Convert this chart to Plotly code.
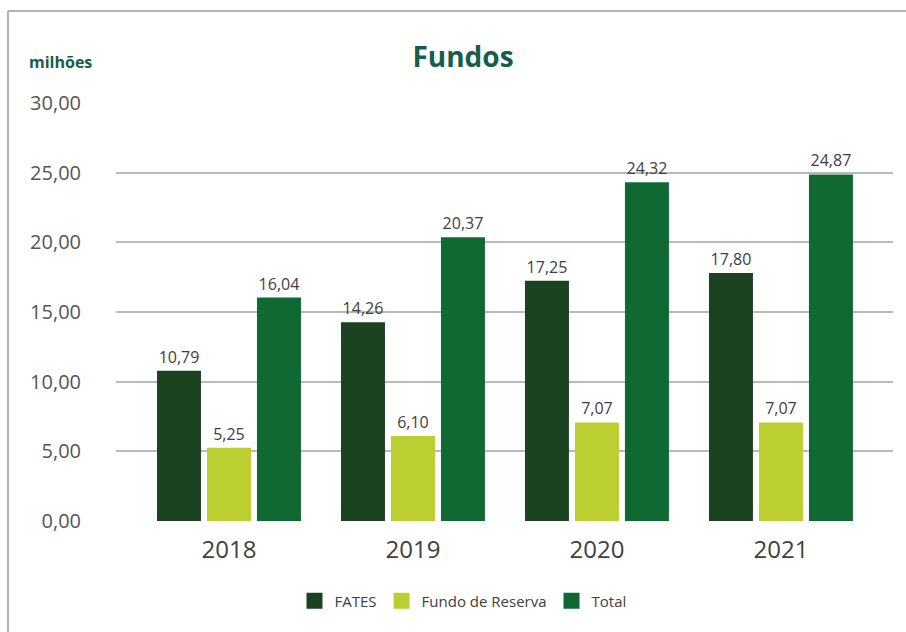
import plotly.graph_objects as go

# Anos e valores (em milhões)
anos = ["2018", "2019", "2020", "2021"]
fates = [10.79, 14.26, 17.25, 17.80]
fundo_reserva = [5.25, 6.10, 7.07, 7.07]
total = [16.04, 20.37, 24.32, 24.87]

series = [
    ("FATES", fates, "#1b4321"),
    ("Fundo de Reserva", fundo_reserva, "#bccf31"),
    ("Total", total, "#106832"),
]

y_ticks = [0, 5, 10, 15, 20, 25, 30]

FONT = "Open Sans"
TEXT_COLOR = "#404040"
TITLE_COLOR = "#155e4b"

fig = go.Figure()

for name, values, color in series:
    fig.add_trace(go.Bar(
        x=anos,
        y=values,
        name=name,
        marker=dict(color=color, line=dict(width=0)),
        texttemplate="%{y:.2f}",
        textposition="outside",
        cliponaxis=False,
        textfont=dict(family=FONT, size=16, color=TEXT_COLOR),
        showlegend=False,
        hoverinfo="skip",
    ))

# Legend entries with large square swatches
for name, values, color in series:
    fig.add_trace(go.Scatter(
        x=[None], y=[None],
        mode="markers",
        name=name,
        marker=dict(symbol="square", size=22, color=color),
        showlegend=True,
    ))

fig.update_layout(
    width=906,
    height=632,
    margin=dict(l=116, r=13, t=103, b=111),
    paper_bgcolor="white",
    plot_bgcolor="white",
    separators=",.",
    barmode="group",
    bargap=0.185,
    bargroupgap=0.12,
    font=dict(family=FONT, color=TEXT_COLOR),
    title=dict(
        text="<b>Fundos</b>",
        x=463 / 906,
        xanchor="center",
        y=1 - 57 / 632,
        yanchor="middle",
        font=dict(family=FONT, size=28, color=TITLE_COLOR),
    ),
    xaxis=dict(
        type="category",
        range=[-0.614, 3.609],
        showgrid=False,
        showline=False,
        zeroline=False,
        ticks="",
        ticklabelstandoff=12,
        tickfont=dict(family=FONT, size=24, color=TEXT_COLOR),
    ),
    yaxis=dict(
        range=[0, 30],
        tickvals=y_ticks,
        tickformat=".2f",
        showgrid=True,
        gridcolor="#b9b9b9",
        gridwidth=2,
        zeroline=False,
        showline=False,
        ticks="",
        ticklabelstandoff=34,
        tickfont=dict(family=FONT, size=20, color="#555555"),
    ),
    legend=dict(
        orientation="h",
        x=(463 - 116) / 777,
        xanchor="center",
        y=(521 - 601) / 418,
        yanchor="middle",
        font=dict(family=FONT, size=15, color=TEXT_COLOR),
        itemsizing="trace",
        bgcolor="rgba(0,0,0,0)",
    ),
    annotations=[
        dict(
            text="<b>milhões</b>",
            xref="paper", yref="paper",
            x=(27 - 116) / 777, y=(521 - 62) / 418,
            xanchor="left", yanchor="middle",
            showarrow=False,
            font=dict(family=FONT, size=16, color=TITLE_COLOR),
        )
    ],
    shapes=[
        # frame: top and left edges
        dict(type="line", xref="paper", yref="paper",
             x0=(8 - 116) / 777, x1=(906 - 116) / 777,
             y0=(521 - 11) / 418, y1=(521 - 11) / 418,
             line=dict(color="#b3b3b3", width=2)),
        dict(type="line", xref="paper", yref="paper",
             x0=(8 - 116) / 777, x1=(8 - 116) / 777,
             y0=(521 - 11) / 418, y1=(521 - 640) / 418,
             line=dict(color="#b3b3b3", width=2)),
    ],
)

fig.write_html("out.html")
